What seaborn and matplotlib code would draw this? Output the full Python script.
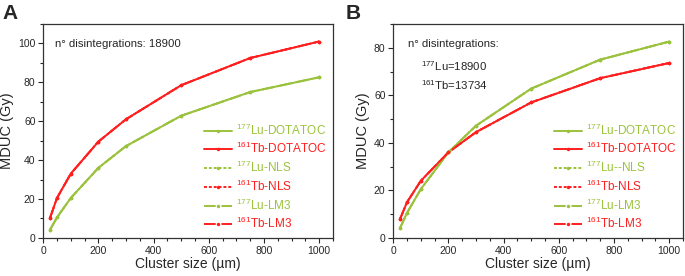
import numpy as np
import pandas as pd
import matplotlib
matplotlib.use("Agg")
import matplotlib.pyplot as plt
import seaborn as sns
from matplotlib.ticker import MultipleLocator

# Data
cluster = [25, 50, 100, 200, 300, 500, 750, 1000]
lu177 = [4.2, 10.5, 20.5, 36.0, 47.2, 62.8, 75.0, 82.6]
tb161_a = [10.3, 20.5, 33.0, 49.5, 61.0, 78.5, 92.5, 101.0]
tb161_b = [8.0, 15.0, 24.0, 36.0, 44.5, 57.0, 67.2, 73.6]

labels = [r"$^{177}$Lu-DOTATOC", r"$^{161}$Tb-DOTATOC", r"$^{177}$Lu-NLS",
          r"$^{161}$Tb-NLS", r"$^{177}$Lu-LM3", r"$^{161}$Tb-LM3"]
labels_b = [r"$^{177}$Lu-DOTATOC", r"$^{161}$Tb-DOTATOC", r"$^{177}$Lu--NLS",
            r"$^{161}$Tb-NLS", r"$^{177}$Lu-LM3", r"$^{161}$Tb-LM3"]

GREEN = "#9bc23c"
RED = "#ff1f1f"
colors = [GREEN, RED, GREEN, RED, GREEN, RED]
styles = ["-", "-", (0, (1.5, 1)), (0, (1.5, 1)), (0, (6, 3)), (0, (6, 3))]

sns.set_style("ticks")
plt.rcParams["font.family"] = ["Liberation Sans", "DejaVu Sans"]
plt.rcParams["mathtext.fontset"] = "custom"
plt.rcParams["mathtext.rm"] = "Liberation Sans"

fig = plt.figure(figsize=(6.85, 2.76), dpi=100)
ax_a = fig.add_axes([0.063, 0.138, 0.423, 0.775])
ax_b = fig.add_axes([0.574, 0.138, 0.423, 0.775])


def draw(ax, tb, labs, ylim, ymaj):
    series = [lu177, tb, lu177, tb, lu177, tb]
    for vals, lab, c, ls in zip(series, labs, colors, styles):
        df = pd.DataFrame({"x": cluster, "y": vals})
        sns.lineplot(data=df, x="x", y="y", ax=ax, color=c, linestyle=ls,
                     marker="o", markersize=2.5, markeredgewidth=0,
                     linewidth=1.4, label=lab)
    ax.set_xlim(0, 1050)
    ax.set_ylim(*ylim)
    ax.xaxis.set_major_locator(MultipleLocator(200))
    ax.xaxis.set_minor_locator(MultipleLocator(50))
    ax.yaxis.set_major_locator(MultipleLocator(ymaj))
    ax.yaxis.set_minor_locator(MultipleLocator(ymaj / 2))
    ax.tick_params(which="major", direction="out", length=3.5, width=0.8,
                   labelsize=7.5, pad=2)
    ax.tick_params(which="minor", direction="out", length=2, width=0.8)
    for s in ax.spines.values():
        s.set_linewidth(0.9)
        s.set_color("#333333")
    ax.set_xlabel("Cluster size (µm)", fontsize=10, labelpad=1)
    ax.set_ylabel("MDUC (Gy)", fontsize=10.5, labelpad=3)
    leg = ax.legend(loc="lower right", frameon=False, fontsize=8.5,
                    handlelength=2.4, labelspacing=0.3, handletextpad=0.3,
                    borderaxespad=0.15)
    for txt, c in zip(leg.get_texts(), colors):
        txt.set_color(c)


draw(ax_a, tb161_a, labels, (0, 110), 20)
draw(ax_b, tb161_b, labels_b, (0, 90), 20)

ax_a.text(0.04, 0.93, "n° disintegrations: 18900", transform=ax_a.transAxes,
          fontsize=8.2, va="top")
ax_b.text(0.05, 0.93, "n° disintegrations:", transform=ax_b.transAxes,
          fontsize=8.2, va="top")
ax_b.text(0.095, 0.835, r"$^{177}$Lu=18900", transform=ax_b.transAxes,
          fontsize=8.2, va="top")
ax_b.text(0.095, 0.745, r"$^{161}$Tb=13734", transform=ax_b.transAxes,
          fontsize=8.2, va="top")

fig.text(0.003, 0.985, "A", fontsize=15, fontweight="bold", va="top")
fig.text(0.505, 0.985, "B", fontsize=15, fontweight="bold", va="top")

fig.savefig("out.png", dpi=100)
